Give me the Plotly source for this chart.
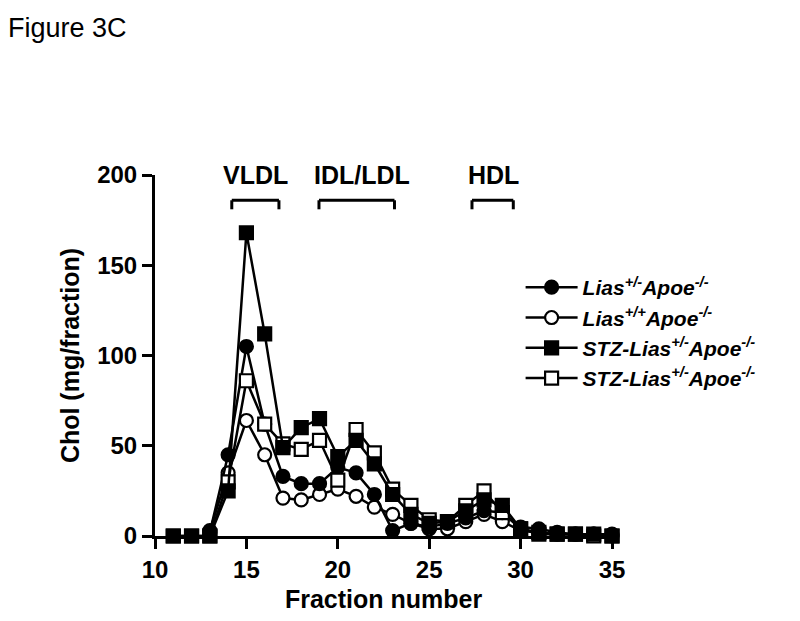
import plotly.graph_objects as go

# Fraction numbers
fractions = list(range(11, 36))
circ_fractions = list(range(13, 36))

# Chol (mg/fraction)
lias_het = [2, 45, 105, 62, 33, 29, 29, 38, 35, 23, 3, 7, 5, 7, 10, 14, 13, 5, 4, 2, 1, 1, 1]
lias_wt = [3, 35, 64, 45, 21, 20, 23, 26, 22, 16, 12, 7, 4, 4, 8, 12, 8, 3, 2, 1, 1, 1, 0]
stz_het_a = [0, 0, 0, 25, 168, 112, 49, 60, 65, 44, 53, 40, 23, 12, 7, 8, 14, 20, 17, 4, 2, 1, 1, 1, 0]
stz_het_b = [0, 0, 0, 30, 86, 62, 51, 48, 53, 31, 59, 46, 26, 17, 9, 8, 17, 25, 13, 4, 1, 1, 1, 0, 0]

# Lipoprotein class brackets: (label, label x, start, end)
brackets = [("VLDL", 15.5, 14.2, 16.78), ("IDL/LDL", 21.35, 18.97, 23.1), ("HDL", 28.5, 27.34, 29.6)]

FONT = "Liberation Sans, Arial, sans-serif"

fig = go.Figure()

def add_series(x, y, name, symbol, fill, rank):
    fig.add_trace(go.Scatter(
        x=x, y=y, name=name, mode="lines+markers",
        line=dict(color="black", width=2.5),
        marker=dict(symbol=symbol, size=13, color=fill,
                    line=dict(color="black", width=2.2)),
        cliponaxis=False, legendrank=rank,
    ))

add_series(circ_fractions, lias_wt, "<b><i>Lias<sup>+/+</sup>Apoe<sup>-/-</sup></i></b>", "circle", "white", 2)
add_series(circ_fractions, lias_het, "<b><i>Lias<sup>+/-</sup>Apoe<sup>-/-</sup></i></b>", "circle", "black", 1)
add_series(fractions, stz_het_b, "<b><i>STZ-Lias<sup>+/-</sup>Apoe<sup>-/-</sup></i></b>", "square", "white", 4)
add_series(fractions, stz_het_a, "<b><i>STZ-Lias<sup>+/-</sup>Apoe<sup>-/-</sup></i></b>", "square", "black", 3)

for label, lx, x0, x1 in brackets:
    fig.add_shape(type="line", x0=x0, x1=x1, y0=186, y1=186,
                  line=dict(color="black", width=3))
    for xx in (x0, x1):
        fig.add_shape(type="line", x0=xx, x1=xx, y0=186, y1=181,
                      line=dict(color="black", width=3))
    fig.add_annotation(x=lx, y=200, text="<b>%s</b>" % label,
                       showarrow=False, font=dict(size=25, color="black", family=FONT),
                       yanchor="middle")

# panel label in the top-left corner
fig.add_annotation(x=-149 / 457, y=1 + 165 / 364, xref="paper", yref="paper",
                   xanchor="left", yanchor="top", text="Figure 3C", showarrow=False,
                   font=dict(size=27, color="black", family=FONT))

fig.update_layout(
    width=792, height=613,
    margin=dict(l=147, r=188, t=167, b=82),
    plot_bgcolor="white", paper_bgcolor="white",
    font=dict(family=FONT, color="black", size=24),
    showlegend=True,
    legend=dict(x=0.8, y=0.745, xanchor="left", yanchor="top",
                bgcolor="rgba(0,0,0,0)", font=dict(size=21, family=FONT),
                tracegroupgap=0, itemwidth=52),
    xaxis=dict(range=[10, 35], tickvals=[10, 15, 20, 25, 30, 35],
               ticktext=["<b>%d</b>" % v for v in [10, 15, 20, 25, 30, 35]],
               showline=True, linecolor="black", linewidth=3,
               ticks="outside", ticklen=10, tickwidth=3, tickcolor="black",
               showgrid=False, zeroline=False,
               title=dict(text="<b>Fraction number</b>", font=dict(size=25), standoff=9)),
    yaxis=dict(range=[0, 200], tickvals=[0, 50, 100, 150, 200],
               ticktext=["<b>%d</b>" % v for v in [0, 50, 100, 150, 200]],
               showline=True, linecolor="black", linewidth=3,
               ticks="outside", ticklen=10, tickwidth=3, tickcolor="black",
               showgrid=False, zeroline=False,
               title=dict(text="<b>Chol (mg/fraction)</b>", font=dict(size=25), standoff=11)),
)

fig.write_html("out.html")
